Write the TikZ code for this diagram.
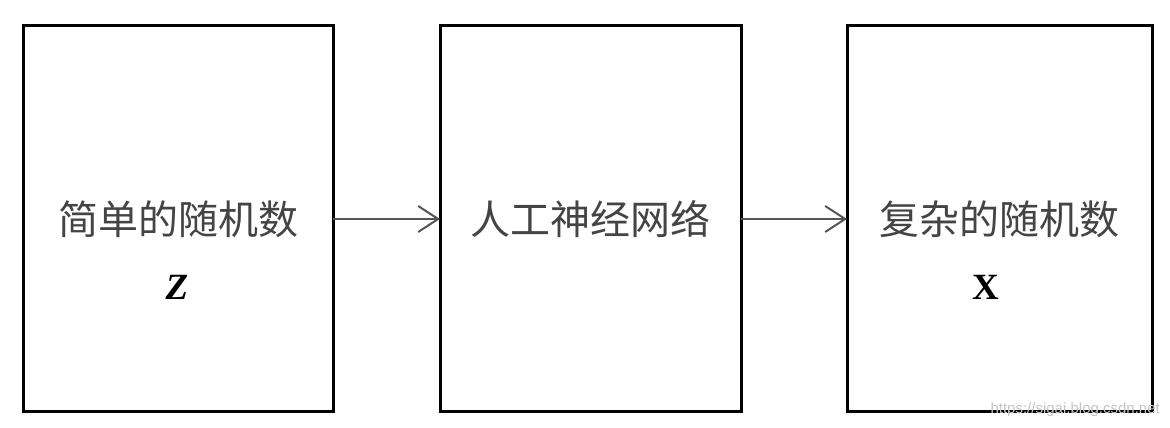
\documentclass[tikz,border=0pt]{standalone}
\usepackage{fontspec}
\setmainfont{Liberation Serif}
\newfontfamily\cjk{Noto Sans CJK SC}
\newfontfamily\wmfont{Liberation Sans}
\usetikzlibrary{arrows.meta}
\definecolor{txtgray}{HTML}{444444}
\definecolor{arrgray}{HTML}{555555}
\tikzset{
  boxnode/.style={draw=black, line width=3pt, inner sep=0pt, outer sep=0pt, minimum height=386pt},
  cjklabel/.style={font=\cjk\fontsize{40}{48}\selectfont, text=txtgray, inner sep=0pt},
  varlabel/.style={font=\fontsize{37}{44}\selectfont\bfseries, inner sep=0pt},
  flow/.style={draw=arrgray, line width=2pt, -{Straight Barb[length=20pt,width=26pt,line width=2pt]}}
}
\begin{document}
\begin{tikzpicture}[x=1pt,y=1pt]
\useasboundingbox (0,0) rectangle (1170,428);
\node[boxnode, minimum width=310pt] (b1) at (178,209) {};
\node[boxnode, minimum width=301pt] (b2) at (590.5,209) {};
\node[boxnode, minimum width=305pt] (b3) at (999.5,209) {};
\node[cjklabel] (t1) at (178,209) {简单的随机数};
\node[cjklabel] (t2) at (590.5,209) {人工神经网络};
\node[cjklabel] (t3) at (999.5,209) {复杂的随机数};
\node[varlabel, font=\fontsize{37}{44}\selectfont\bfseries\itshape] (z) at (177,141) {Z};
\node[varlabel] (x) at (986,141) {X};
\draw[flow] (b1.east) -- (b2.west);
\draw[flow] (b2.east) -- (b3.west);
\node[font=\wmfont\fontsize{15}{18}\selectfont, text=gray!45, anchor=east, inner sep=0pt] (wm) at (1160,18) {https://sigai.blog.csdn.net};
\end{tikzpicture}
\end{document}
